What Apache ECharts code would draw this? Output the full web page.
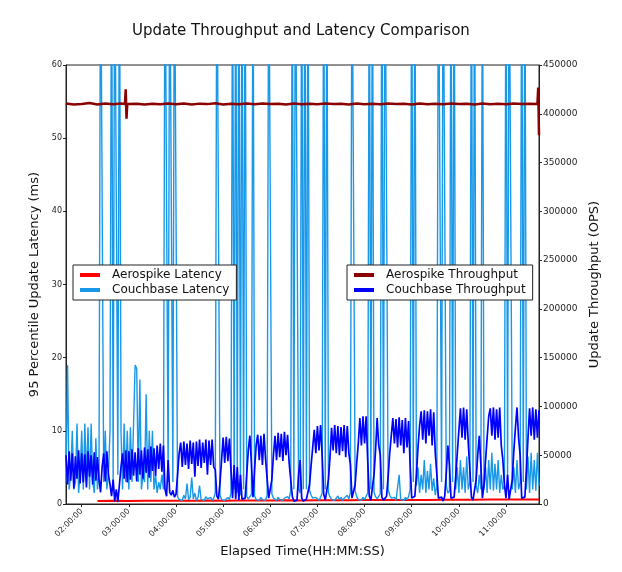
<!DOCTYPE html>
<html>
<head>
	<meta charset="UTF-8">
	<title>Update Throughput and Latency Comparison</title>
	<script src="https://cdn.jsdelivr.net/npm/echarts@6/dist/echarts.min.js"></script>
	<style>
		body { margin: 0; background: #fff; }
	</style>
</head>
<body>
<div id="main" style="width: 622px;height:572px;"></div>
<script type="text/javascript">
	// sample grid of the couchbase series: one sample every 2 minutes from 01:40:00
	var sampleStart = 6000;
	var sampleStep = 120;

	// tick positions on the time axis (seconds)
	var hourTicks = [7200, 10800, 14400, 18000, 21600, 25200, 28800, 32400, 36000, 39600];

	// couchbase 95th percentile latency (ms), one row per hour
	var cbLatency = [
		3, 19, 2, 4, 10, 2, 3, 11, 1.5, 4,
		10, 2, 11, 3, 10.5, 2, 11, 3, 1.5, 9, 2, 4, 80, 80, 3, 10, 2, 4, 10, 80, 3, 80, 80, 4, 80, 10, 2, 11, 3, 10,
		2, 10.5, 3, 11, 19, 18.5, 3, 17, 2, 4, 3, 15, 2, 10, 3, 10, 2, 4, 1.5, 3, 2, 4, 2, 80, 80, 3, 80, 80, 3, 80,
		80, 1, 0.6, 0.8, 0.5, 1.2, 0.7, 2.8, 0.6, 0.9, 3.6, 0.7, 1.5, 0.5, 0.9, 2.5, 0.6, 0.8, 0.5, 1, 0.7, 0.6, 0.9, 0.5, 0.8, 1.5, 80, 80, 1.2, 0.6,
		0.8, 0.5, 0.7, 0.9, 0.6, 1.5, 80, 2, 80, 1.5, 80, 1.2, 80, 2, 80, 1, 0.7, 0.5, 1.3, 80, 1.1, 0.6, 0.8, 0.5, 0.9, 0.6, 0.7, 0.5, 1.2, 80,
		80, 1.4, 0.8, 0.6, 0.5, 0.9, 0.6, 0.7, 0.5, 0.8, 0.6, 1, 0.7, 1.8, 80, 2, 80, 80, 2, 1.5, 80, 2, 80, 2, 80, 1.8, 1.2, 0.8, 0.6, 0.9,
		0.7, 0.5, 0.9, 1.5, 80, 2, 80, 1.5, 1, 0.6, 0.8, 0.5, 0.7, 1.1, 0.6, 0.9, 0.5, 0.8, 0.6, 1.2, 0.7, 1.6, 80, 80, 1.8, 1, 0.6, 0.8, 0.5, 0.9,
		0.6, 0.8, 1.5, 80, 2, 80, 1.6, 1, 0.7, 0.5, 1.4, 80, 2, 80, 80, 2, 1.2, 0.8, 0.6, 0.9, 0.5, 0.7, 4, 0.6, 0.8, 0.5, 0.9, 0.6, 1, 2,
		80, 3, 80, 2.5, 5, 1.5, 4, 2, 6, 1.5, 4.5, 2, 5.5, 1.8, 3.5, 1.2, 2.5, 80, 80, 3, 80, 80, 2.5, 1.5, 1.8, 80, 3, 80, 2, 5,
		1.5, 6, 2, 5, 1.5, 6.5, 2, 3, 80, 3, 80, 2.5, 1.5, 4, 2, 80, 2, 5, 1.5, 6, 2, 7, 1.8, 5.5, 2, 6, 1.5, 4, 2, 2.5,
		80, 3, 80, 80, 2, 5, 1.5, 6, 2, 3, 80, 3, 80, 2, 6.5, 1.5, 7, 2, 6, 1.8, 7, 2.5
	];

	// couchbase update throughput (thousand ops/s), same grid
	var cbThroughputK = [
		50, 20, 54, 24, 52, 16, 49, 26, 55, 21,
		52, 22, 51, 17, 54, 28, 50, 20, 53, 24, 48, 26, 12, 38, 52, 23, 54, 30, 20, 8, 25, 3, 15, 2, 20, 38, 52, 26, 55, 22,
		54, 25, 56, 29, 53, 23, 57, 30, 55, 26, 58, 32, 56, 27, 59, 34, 57, 29, 60, 36, 62, 33, 60, 15, 8, 45, 12, 9, 14, 7,
		10, 30, 52, 63, 38, 64, 40, 62, 36, 65, 41, 63, 28, 64, 39, 66, 37, 63, 42, 66, 30, 65, 40, 66, 38, 35, 8, 5, 22, 45,
		68, 42, 69, 44, 67, 35, 6, 40, 5, 38, 4, 30, 5, 3, 6, 30, 55, 70, 42, 7, 35, 60, 71, 45, 70, 40, 72, 46, 45, 6,
		4, 25, 50, 70, 45, 73, 48, 72, 44, 74, 50, 71, 42, 40, 8, 3, 5, 4, 30, 45, 6, 3, 4, 5, 6, 20, 40, 58, 76, 52,
		80, 55, 81, 50, 10, 4, 6, 25, 48, 78, 55, 81, 52, 80, 50, 79, 54, 81, 48, 80, 52, 40, 6, 4, 20, 42, 62, 88, 60, 90,
		62, 90, 45, 8, 4, 6, 30, 55, 88, 60, 50, 7, 4, 5, 8, 28, 52, 70, 88, 62, 87, 58, 89, 60, 86, 52, 88, 58, 85, 40,
		6, 4, 8, 30, 58, 80, 95, 66, 96, 62, 95, 70, 97, 60, 94, 52, 30, 6, 4, 7, 3, 8, 32, 60, 40, 6, 4, 7, 28, 52,
		75, 98, 68, 99, 66, 97, 62, 35, 7, 4, 6, 25, 50, 70, 40, 6, 20, 45, 68, 90, 98, 70, 99, 66, 97, 68, 99, 60, 45, 20,
		6, 30, 5, 4, 25, 55, 78, 99, 68, 50, 6, 4, 7, 35, 68, 98, 70, 99, 66, 97, 68, 96
	];

	// aerospike latency (ms): [seconds, value]
	var asLatency = [
		[8400, 0.42], [9600, 0.45], [10800, 0.40], [12000, 0.44], [13200, 0.43], [14400, 0.46],
		[15600, 0.44], [16800, 0.47], [18000, 0.45], [19200, 0.48], [20400, 0.47], [21600, 0.49],
		[22800, 0.50], [24000, 0.49], [25200, 0.51], [26400, 0.52], [27600, 0.51], [28800, 0.53],
		[30000, 0.54], [31200, 0.53], [32400, 0.55], [33600, 0.56], [34800, 0.57], [36000, 0.58],
		[37200, 0.59], [38400, 0.60], [39600, 0.61], [40800, 0.62], [42120, 0.63]
	];

	// aerospike throughput (thousand ops/s): [seconds, value]
	var asThroughputK = [
		[6000, 410.5], [6600, 409.5], [7200, 410], [7800, 411], [8400, 409.5], [9000, 410.5],
		[9600, 409.8], [10200, 410.6], [10500, 410], [10560, 425], [10620, 395], [10680, 410],
		[11400, 410.3], [12000, 409.6], [12600, 410.4], [13200, 409.7], [13800, 410.5], [14400, 409.8],
		[15000, 410.6], [15600, 409.5], [16200, 410.4], [16800, 409.9], [17400, 410.7], [18000, 409.6],
		[18600, 410.3], [19200, 409.8], [19800, 410.5], [20400, 409.7], [21000, 410.6], [21600, 409.9],
		[22200, 410.4], [22800, 409.6], [23400, 410.5], [24000, 409.8], [24600, 410.3], [25200, 409.7],
		[25800, 410.6], [26400, 409.9], [27000, 410.4], [27600, 409.6], [28200, 410.5], [28800, 409.8],
		[29400, 410.3], [30000, 409.7], [30600, 410.6], [31200, 409.9], [31800, 410.4], [32400, 409.6],
		[33000, 410.5], [33600, 409.8], [34200, 410.3], [34800, 409.7], [35400, 410.6], [36000, 409.9],
		[36600, 410.4], [37200, 409.6], [37800, 410.5], [38400, 409.8], [39000, 410.3], [39600, 409.7],
		[40200, 410.6], [40800, 409.9], [41400, 410.4], [42000, 410], [42060, 427], [42120, 378]
	];

	function onGrid(values, scale) {
		var arr = [];
		for (var i = 0; i < values.length; i++) {
			arr.push([sampleStart + i * sampleStep, values[i] * scale]);
		}
		return arr;
	}

	function scalePairs(pairs, scale) {
		return pairs.map(function (p) { return [p[0], p[1] * scale]; });
	}

	function hms(sec) {
		var h = Math.floor(sec / 3600), m = Math.floor(sec % 3600 / 60), s = sec % 60;
		function two(n) { return (n < 10 ? '0' : '') + n; }
		return two(h) + ':' + two(m) + ':' + two(s);
	}

	var myChart = echarts.init(document.getElementById('main'));
	var font = 'DejaVu Sans';

	var option = {
		animation: false,
		backgroundColor: '#fff',
		textStyle: { fontFamily: font },
		title: {
			text: 'Update Throughput and Latency Comparison',
			left: 127,
			top: 19,
			textStyle: { fontFamily: font, fontSize: 15, fontWeight: 'normal', color: '#111' }
		},
		legend: [
			{
				data: ['Aerospike Latency', 'Couchbase Latency'],
				orient: 'vertical',
				left: 73,
				top: 265,
				icon: 'rect',
				itemWidth: 20,
				itemHeight: 4,
				itemGap: 3,
				padding: [4, 7, 4, 7],
				borderColor: '#222',
				borderWidth: 1,
				backgroundColor: '#fff',
				textStyle: { fontFamily: font, fontSize: 12, color: '#111', padding: [0, 0, 0, 7] }
			},
			{
				data: ['Aerospike Throughput', 'Couchbase Throughput'],
				orient: 'vertical',
				left: 347,
				top: 265,
				icon: 'rect',
				itemWidth: 20,
				itemHeight: 4,
				itemGap: 3,
				padding: [4, 7, 4, 7],
				borderColor: '#222',
				borderWidth: 1,
				backgroundColor: '#fff',
				textStyle: { fontFamily: font, fontSize: 12, color: '#111', padding: [0, 0, 0, 7] }
			}
		],
		grid: {
			left: 66,
			right: 83,
			top: 65,
			bottom: 68,
			show: true,
			borderColor: '#222',
			borderWidth: 1
		},
		xAxis: {
			type: 'value',
			min: 6000,
			max: 42120,
			name: 'Elapsed Time(HH:MM:SS)',
			nameLocation: 'middle',
			nameGap: 40,
			nameTextStyle: { fontFamily: font, fontSize: 13, color: '#111' },
			axisLine: { lineStyle: { color: '#222' } },
			axisTick: { customValues: hourTicks, length: 3, lineStyle: { color: '#222' } },
			axisLabel: {
				customValues: hourTicks,
				rotate: 45,
				margin: 6,
				fontSize: 8,
				color: '#222',
				formatter: function (v) { return hms(v); }
			},
			splitLine: { show: false }
		},
		yAxis: [
			{
				type: 'value',
				min: 0,
				max: 60,
				interval: 10,
				position: 'left',
				name: '95 Percentile Update Latency (ms)',
				nameLocation: 'middle',
				nameRotate: 90,
				nameGap: 20,
				nameTextStyle: { fontFamily: font, fontSize: 13, color: '#111' },
				axisLine: { show: true, lineStyle: { color: '#222' } },
				axisTick: { show: true, length: 3, lineStyle: { color: '#222' } },
				axisLabel: { fontSize: 8, color: '#222', margin: 4 },
				splitLine: { show: false }
			},
			{
				type: 'value',
				min: 0,
				max: 450000,
				interval: 50000,
				position: 'right',
				name: 'Update Throughput (OPS)',
				nameLocation: 'middle',
				nameRotate: 90,
				nameGap: 39,
				nameTextStyle: { fontFamily: font, fontSize: 13, color: '#111' },
				axisLine: { show: true, lineStyle: { color: '#222' } },
				axisTick: { show: true, length: 3, lineStyle: { color: '#222' } },
				axisLabel: { fontSize: 9, color: '#222', margin: 4, formatter: function (v) { return String(v); } },
				splitLine: { show: false }
			}
		],
		series: [
			{
				name: 'Aerospike Latency',
				type: 'line',
				yAxisIndex: 0,
				symbol: 'none',
				data: asLatency,
				color: '#ff0000',
				lineStyle: { width: 2 }
			},
			{
				name: 'Couchbase Latency',
				type: 'line',
				yAxisIndex: 0,
				symbol: 'none',
				data: onGrid(cbLatency, 1),
				color: '#1a98e8',
				lineStyle: { width: 1.4 }
			},
			{
				name: 'Aerospike Throughput',
				type: 'line',
				yAxisIndex: 1,
				symbol: 'none',
				data: scalePairs(asThroughputK, 1000),
				color: '#8b0000',
				lineStyle: { width: 2.5 }
			},
			{
				name: 'Couchbase Throughput',
				type: 'line',
				yAxisIndex: 1,
				symbol: 'none',
				data: onGrid(cbThroughputK, 1000),
				color: '#0000ff',
				lineStyle: { width: 1.7 }
			}
		]
	};

	myChart.setOption(option);
</script>
</body>
</html>
